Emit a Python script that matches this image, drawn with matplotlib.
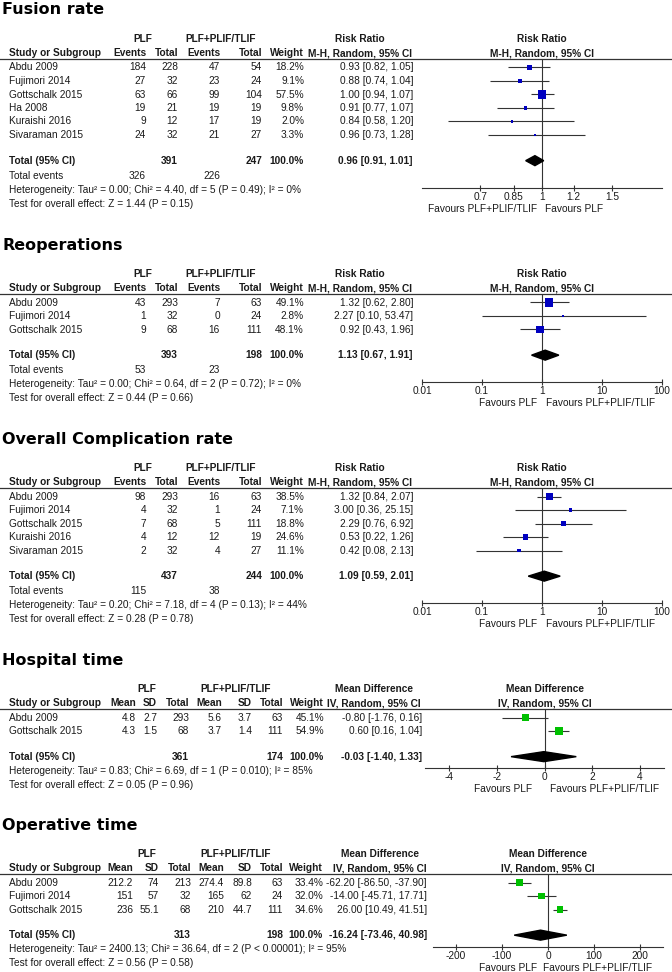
import numpy as np
import matplotlib
matplotlib.use("Agg")
import matplotlib.pyplot as plt
from matplotlib.patches import Polygon
from matplotlib.ticker import NullLocator


# ============================================================
# Data
# ============================================================

# --- Fusion rate ---
fusion_studies = ["Abdu 2009", "Fujimori 2014", "Gottschalk 2015", "Ha 2008",
                  "Kuraishi 2016", "Sivaraman 2015"]
fusion_plf_events = [184, 27, 63, 19, 9, 24]
fusion_plf_total = [228, 32, 66, 21, 12, 32]
fusion_ctl_events = [47, 23, 99, 19, 17, 21]
fusion_ctl_total = [54, 24, 104, 19, 19, 27]
fusion_weight = [18.2, 9.1, 57.5, 9.8, 2.0, 3.3]
fusion_rr = [0.93, 0.88, 1.00, 0.91, 0.84, 0.96]
fusion_lo = [0.82, 0.74, 0.94, 0.77, 0.58, 0.73]
fusion_hi = [1.05, 1.04, 1.07, 1.07, 1.20, 1.28]
fusion_pooled = [0.96, 0.91, 1.01]
fusion_het = "Heterogeneity: Tau² = 0.00; Chi² = 4.40, df = 5 (P = 0.49); I² = 0%"
fusion_test = "Test for overall effect: Z = 1.44 (P = 0.15)"
fusion_ticks = [0.7, 0.85, 1, 1.2, 1.5]
fusion_xlim = [0.5, 2.0]

# --- Reoperations ---
reop_studies = ["Abdu 2009", "Fujimori 2014", "Gottschalk 2015"]
reop_plf_events = [43, 1, 9]
reop_plf_total = [293, 32, 68]
reop_ctl_events = [7, 0, 16]
reop_ctl_total = [63, 24, 111]
reop_weight = [49.1, 2.8, 48.1]
reop_rr = [1.32, 2.27, 0.92]
reop_lo = [0.62, 0.10, 0.43]
reop_hi = [2.80, 53.47, 1.96]
reop_pooled = [1.13, 0.67, 1.91]
reop_het = "Heterogeneity: Tau² = 0.00; Chi² = 0.64, df = 2 (P = 0.72); I² = 0%"
reop_test = "Test for overall effect: Z = 0.44 (P = 0.66)"

# --- Overall complication rate ---
comp_studies = ["Abdu 2009", "Fujimori 2014", "Gottschalk 2015", "Kuraishi 2016",
                "Sivaraman 2015"]
comp_plf_events = [98, 4, 7, 4, 2]
comp_plf_total = [293, 32, 68, 12, 32]
comp_ctl_events = [16, 1, 5, 12, 4]
comp_ctl_total = [63, 24, 111, 19, 27]
comp_weight = [38.5, 7.1, 18.8, 24.6, 11.1]
comp_rr = [1.32, 3.00, 2.29, 0.53, 0.42]
comp_lo = [0.84, 0.36, 0.76, 0.22, 0.08]
comp_hi = [2.07, 25.15, 6.92, 1.26, 2.13]
comp_pooled = [1.09, 0.59, 2.01]
comp_het = "Heterogeneity: Tau² = 0.20; Chi² = 7.18, df = 4 (P = 0.13); I² = 44%"
comp_test = "Test for overall effect: Z = 0.28 (P = 0.78)"

log_ticks = [0.01, 0.1, 1, 10, 100]
log_xlim = [0.01, 100]

# --- Hospital time ---
hosp_studies = ["Abdu 2009", "Gottschalk 2015"]
hosp_plf_mean = [4.8, 4.3]
hosp_plf_sd = [2.7, 1.5]
hosp_plf_n = [293, 68]
hosp_ctl_mean = [5.6, 3.7]
hosp_ctl_sd = [3.7, 1.4]
hosp_ctl_n = [63, 111]
hosp_weight = [45.1, 54.9]
hosp_md = [-0.80, 0.60]
hosp_lo = [-1.76, 0.16]
hosp_hi = [0.16, 1.04]
hosp_pooled = [-0.03, -1.40, 1.33]
hosp_het = "Heterogeneity: Tau² = 0.83; Chi² = 6.69, df = 1 (P = 0.010); I² = 85%"
hosp_test = "Test for overall effect: Z = 0.05 (P = 0.96)"
hosp_ticks = [-4, -2, 0, 2, 4]
hosp_xlim = [-5, 5]

# --- Operative time ---
oper_studies = ["Abdu 2009", "Fujimori 2014", "Gottschalk 2015"]
oper_plf_mean = [212.2, 151, 236]
oper_plf_sd = [74, 57, 55.1]
oper_plf_n = [213, 32, 68]
oper_ctl_mean = [274.4, 165, 210]
oper_ctl_sd = [89.8, 62, 44.7]
oper_ctl_n = [63, 24, 111]
oper_weight = [33.4, 32.0, 34.6]
oper_md = [-62.20, -14.00, 26.00]
oper_lo = [-86.50, -45.71, 10.49]
oper_hi = [-37.90, 17.71, 41.51]
oper_pooled = [-16.24, -73.46, 40.98]
oper_het = "Heterogeneity: Tau² = 2400.13; Chi² = 36.64, df = 2 (P < 0.00001); I² = 95%"
oper_test = "Test for overall effect: Z = 0.56 (P = 0.58)"
oper_ticks = [-200, -100, 0, 100, 200]
oper_xlim = [-250, 250]


# ============================================================
# Layout / style
# ============================================================
W, H = 672, 972
plt.rcParams['font.family'] = ['Liberation Sans', 'DejaVu Sans']

TXT = '#1a1a1a'
LINE = '#333333'
BLUE = '#0000c0'
GREEN = '#00c000'
FS = 7.3
RH = 13.5           # row height in pixels

fig = plt.figure(figsize=(W / 100, H / 100), dpi=100)
bg = fig.add_axes([0, 0, 1, 1])
bg.set_xlim(0, W)
bg.set_ylim(H, 0)
bg.axis('off')


def put(x, y, s, ha='right', bold=False):
    bg.text(x, y, s, ha=ha, va='center', fontsize=FS, color=TXT,
            fontweight='bold' if bold else 'normal')


def pct(w):
    # weights are rounded per study, the pooled row always reads 100.0%
    return f"{round(sum(w)):.1f}%"


def forest_axes(x0, x1, line_y, row0, axis_y, xlim, ticks, log, null,
                left_fav, right_fav, fav_off):
    ax = fig.add_axes([x0 / W, 1 - axis_y / H, (x1 - x0) / W, (axis_y - line_y) / H])
    ax.patch.set_visible(False)
    if log:
        ax.set_xscale('log')
    ax.set_xlim(xlim)
    ax.set_ylim((axis_y - row0) / RH, (line_y - row0) / RH)
    for s in ['top', 'left', 'right']:
        ax.spines[s].set_visible(False)
    ax.spines['bottom'].set_color(LINE)
    ax.spines['bottom'].set_linewidth(0.8)
    ax.set_yticks([])
    ax.set_xticks(ticks)
    ax.set_xticklabels([f"{t:g}" for t in ticks])
    ax.xaxis.set_minor_locator(NullLocator())
    ax.tick_params(axis='x', direction='inout', length=5, width=0.8, color=LINE,
                   labelsize=FS, labelcolor=TXT, pad=0.5)
    ax.axvline(null, color=LINE, lw=0.8)
    ax.annotate(left_fav, xy=(null, 0), xycoords=('data', 'axes fraction'),
                xytext=(fav_off[0], -21), textcoords='offset pixels',
                ha='right', va='center', fontsize=FS, color=TXT)
    ax.annotate(right_fav, xy=(null, 0), xycoords=('data', 'axes fraction'),
                xytext=(fav_off[1], -21), textcoords='offset pixels',
                ha='left', va='center', fontsize=FS, color=TXT)
    return ax


def draw_marks(ax, est, lo, hi, weight, pooled, color):
    n = len(est)
    rows = np.arange(n)
    ax.hlines(rows, lo, hi, color=LINE, lw=0.8, zorder=2)
    side = np.maximum(1.15 * np.sqrt(weight), 2.2) * 0.72
    ax.scatter(est, rows, marker='s', s=side ** 2, color=color, linewidths=0, zorder=3)
    yt = n + 0.9
    h = 5 / RH
    p, plo, phi = pooled
    ax.add_patch(Polygon([(plo, yt), (p, yt - h), (phi, yt), (p, yt + h)],
                         closed=True, color='black', zorder=3))


def header_common(title, line_y):
    bg.text(2, line_y - 49, title, ha='left', va='center', fontsize=11.5,
            fontweight='bold', family='DejaVu Sans', color='black')
    bg.plot([0, W], [line_y, line_y], color=LINE, lw=0.9)
    put(9, line_y - 6, "Study or Subgroup", ha='left', bold=True)


# ============================================================
# Dichotomous (risk ratio) panels
# ============================================================
def dich_panel(title, line_y, studies, ev1, n1, ev2, n2, weight, rr, lo, hi,
               pooled, het, test, xlim, ticks, left_fav, right_fav, fav_off):
    header_common(title, line_y)
    h1, h2 = line_y - 20, line_y - 6
    row0 = line_y + 8.5
    put(143, h1, "PLF", ha='center', bold=True)
    put(221, h1, "PLF+PLIF/TLIF", ha='center', bold=True)
    put(146, h2, "Events", bold=True)
    put(178, h2, "Total", bold=True)
    put(220, h2, "Events", bold=True)
    put(262, h2, "Total", bold=True)
    put(304, h2, "Weight", bold=True)
    put(360, h1, "Risk Ratio", ha='center', bold=True)
    put(360, h2, "M-H, Random, 95% CI", ha='center', bold=True)
    put(542, h1, "Risk Ratio", ha='center', bold=True)
    put(542, h2, "M-H, Random, 95% CI", ha='center', bold=True)

    for i, name in enumerate(studies):
        y = row0 + i * RH
        put(9, y, name, ha='left')
        put(146, y, str(ev1[i]))
        put(178, y, str(n1[i]))
        put(220, y, str(ev2[i]))
        put(262, y, str(n2[i]))
        put(304, y, f"{weight[i]:.1f}%")
        put(413, y, f"{rr[i]:.2f} [{lo[i]:.2f}, {hi[i]:.2f}]")

    yt = row0 + (len(studies) + 0.9) * RH
    put(9, yt, "Total (95% CI)", ha='left', bold=True)
    put(178, yt, str(sum(n1)), bold=True)
    put(262, yt, str(sum(n2)), bold=True)
    put(304, yt, pct(weight), bold=True)
    put(413, yt, f"{pooled[0]:.2f} [{pooled[1]:.2f}, {pooled[2]:.2f}]", bold=True)
    put(9, yt + 15, "Total events", ha='left')
    put(146, yt + 15, str(sum(ev1)))
    put(220, yt + 15, str(sum(ev2)))
    put(9, yt + 29, het, ha='left')
    put(9, yt + 43, test, ha='left')

    ax = forest_axes(422, 662, line_y, row0, yt + 27, xlim, ticks, True, 1,
                     left_fav, right_fav, fav_off)
    draw_marks(ax, rr, lo, hi, weight, pooled, BLUE)


# ============================================================
# Continuous (mean difference) panels
# ============================================================
def cont_panel(title, line_y, cols, studies, m1, sd1, n1, m2, sd2, n2, weight,
               md, lo, hi, pooled, het, test, x0, x1, xlim, ticks, fav_off):
    header_common(title, line_y)
    h1, h2 = line_y - 20, line_y - 6
    row0 = line_y + 8.5
    cm1, cs1, cn1, cm2, cs2, cn2, cw, cv, chead = cols
    put(147, h1, "PLF", ha='center', bold=True)
    put(236, h1, "PLF+PLIF/TLIF", ha='center', bold=True)
    for x, s in zip([cm1, cs1, cn1, cm2, cs2, cn2, cw],
                    ["Mean", "SD", "Total", "Mean", "SD", "Total", "Weight"]):
        put(x, h2, s, bold=True)
    put(chead, h1, "Mean Difference", ha='center', bold=True)
    put(chead, h2, "IV, Random, 95% CI", ha='center', bold=True)
    put((x0 + x1) / 2, h1, "Mean Difference", ha='center', bold=True)
    put((x0 + x1) / 2, h2, "IV, Random, 95% CI", ha='center', bold=True)

    for i, name in enumerate(studies):
        y = row0 + i * RH
        put(9, y, name, ha='left')
        put(cm1, y, f"{m1[i]:g}")
        put(cs1, y, f"{sd1[i]:g}")
        put(cn1, y, str(n1[i]))
        put(cm2, y, f"{m2[i]:g}")
        put(cs2, y, f"{sd2[i]:g}")
        put(cn2, y, str(n2[i]))
        put(cw, y, f"{weight[i]:.1f}%")
        put(cv, y, f"{md[i]:.2f} [{lo[i]:.2f}, {hi[i]:.2f}]")

    yt = row0 + (len(studies) + 0.9) * RH
    put(9, yt, "Total (95% CI)", ha='left', bold=True)
    put(cn1, yt, str(sum(n1)), bold=True)
    put(cn2, yt, str(sum(n2)), bold=True)
    put(cw, yt, pct(weight), bold=True)
    put(cv, yt, f"{pooled[0]:.2f} [{pooled[1]:.2f}, {pooled[2]:.2f}]", bold=True)
    put(9, yt + 14, het, ha='left')
    put(9, yt + 28, test, ha='left')

    ax = forest_axes(x0, x1, line_y, row0, yt + 11.5, xlim, ticks, False, 0,
                     "Favours PLF", "Favours PLF+PLIF/TLIF", fav_off)
    draw_marks(ax, md, lo, hi, weight, pooled, GREEN)


dich_panel("Fusion rate", 59, fusion_studies, fusion_plf_events, fusion_plf_total,
           fusion_ctl_events, fusion_ctl_total, fusion_weight, fusion_rr,
           fusion_lo, fusion_hi, fusion_pooled, fusion_het, fusion_test,
           fusion_xlim, fusion_ticks, "Favours PLF+PLIF/TLIF", "Favours PLF",
           (-5, 3))

dich_panel("Reoperations", 294, reop_studies, reop_plf_events, reop_plf_total,
           reop_ctl_events, reop_ctl_total, reop_weight, reop_rr, reop_lo,
           reop_hi, reop_pooled, reop_het, reop_test, log_xlim, log_ticks,
           "Favours PLF", "Favours PLF+PLIF/TLIF", (-5, 4))

dich_panel("Overall Complication rate", 488, comp_studies, comp_plf_events,
           comp_plf_total, comp_ctl_events, comp_ctl_total, comp_weight, comp_rr,
           comp_lo, comp_hi, comp_pooled, comp_het, comp_test, log_xlim,
           log_ticks, "Favours PLF", "Favours PLF+PLIF/TLIF", (-5, 4))

cont_panel("Hospital time", 709, [136, 157, 189, 222, 252, 283, 324, 422, 374],
           hosp_studies, hosp_plf_mean, hosp_plf_sd, hosp_plf_n, hosp_ctl_mean,
           hosp_ctl_sd, hosp_ctl_n, hosp_weight, hosp_md, hosp_lo, hosp_hi,
           hosp_pooled, hosp_het, hosp_test, 425, 664, hosp_xlim, hosp_ticks,
           (-12, 6))

cont_panel("Operative time", 874, [133, 159, 191, 224, 252, 283, 323, 427, 380],
           oper_studies, oper_plf_mean, oper_plf_sd, oper_plf_n, oper_ctl_mean,
           oper_ctl_sd, oper_ctl_n, oper_weight, oper_md, oper_lo, oper_hi,
           oper_pooled, oper_het, oper_test, 433, 663, oper_xlim, oper_ticks,
           (-11, -5))

fig.savefig("out.png", dpi=100, facecolor='white')
